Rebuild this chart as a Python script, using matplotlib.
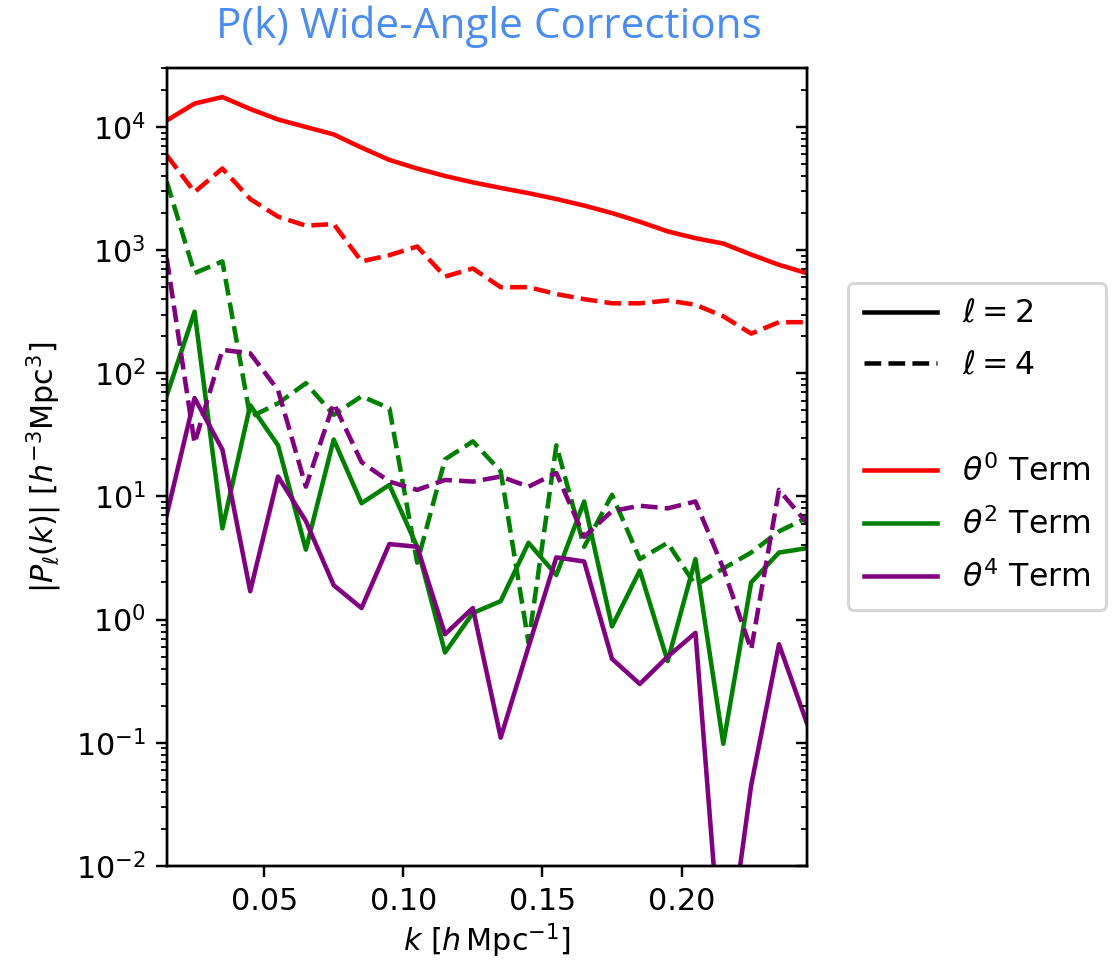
import matplotlib
matplotlib.use("Agg")
import matplotlib.pyplot as plt
from matplotlib.lines import Line2D

# k bins [h/Mpc]
k = [0.015, 0.025, 0.035, 0.045, 0.055, 0.065, 0.075, 0.085, 0.095, 0.105,
     0.115, 0.125, 0.135, 0.145, 0.155, 0.165, 0.175, 0.185, 0.195, 0.205,
     0.215, 0.225, 0.235, 0.245]

# |P_l(k)|
theta0_l2 = [1.13e4, 1.55e4, 1.75e4, 1.4e4, 1.15e4, 1.0e4, 8.7e3, 6.8e3,
             5.4e3, 4.6e3, 4.0e3, 3.55e3, 3.2e3, 2.9e3, 2.6e3, 2.3e3,
             2.0e3, 1.7e3, 1.42e3, 1.25e3, 1.13e3, 9.2e2, 7.6e2, 6.5e2]
theta0_l4 = [5.9e3, 2.96e3, 4.6e3, 2.6e3, 1.87e3, 1.58e3, 1.63e3, 8.1e2,
             9.1e2, 1.07e3, 6.1e2, 7.1e2, 5.0e2, 5.0e2, 4.4e2, 4.0e2,
             3.7e2, 3.7e2, 3.9e2, 3.6e2, 2.9e2, 2.1e2, 2.6e2, 2.6e2]
theta2_l2 = [66, 316, 5.5, 55, 26, 3.7, 29, 8.8, 12.4, 3.9, 0.54, 1.13,
             1.41, 4.2, 2.3, 9.1, 0.88, 2.5, 0.46, 3.1, 0.098, 2.0, 3.5, 3.8]
theta2_l4 = [3.6e3, 6.5e2, 8.1e2, 44, 57, 83, 46, 65, 52, 2.9, 20, 28,
             16, 0.65, 26, 3.9, 10.3, 3.1, 4.2, 1.9, 2.6, 3.5, 5.2, 6.7]
theta4_l2 = [7.1, 63, 24, 1.7, 14.5, 6.3, 1.9, 1.24, 4.1, 3.9, 0.76, 1.24,
             0.11, 0.6, 3.2, 2.96, 0.48, 0.30, 0.50, 0.78, 1e-3, 0.045, 0.63, 0.145]
theta4_l4 = [860, 27, 155, 145, 73, 12, 57, 19, 13.2, 11.3, 13.6, 13.2,
             14.5, 12, 15.5, 4.7, 7.6, 8.4, 8.0, 9.1, 2.6, 0.57, 11.3, 6.1]

# figure is a scaled-up matplotlib default, so scale through dpi
DPI = 217
fig = plt.figure(figsize=(1119 / DPI, 961 / DPI), dpi=DPI)
ax = fig.add_axes([0.149, 0.099, 0.572, 0.830])

ax.plot(k, theta0_l2, color="red", ls="-")
ax.plot(k, theta0_l4, color="red", ls="--")
ax.plot(k, theta2_l2, color="green", ls="-")
ax.plot(k, theta2_l4, color="green", ls="--")
ax.plot(k, theta4_l2, color="purple", ls="-")
ax.plot(k, theta4_l4, color="purple", ls="--")

ax.set_yscale("log")
ax.set_xlim(0.015, 0.245)
ax.set_ylim(1e-2, 3e4)
ax.set_xticks([0.05, 0.10, 0.15, 0.20])
ax.set_xlabel(r"$k\ [h\,{\rm Mpc}^{-1}]$", labelpad=2)
ax.set_ylabel(r"$|P_\ell(k)|\ [h^{-3}{\rm Mpc}^3]$")

# inward ticks on the right edge
ax2 = ax.twinx()
ax2.set_yscale("log")
ax2.set_ylim(1e-2, 3e4)
ax2.tick_params(which="both", direction="in", labelright=False)

handles = [
    Line2D([], [], color="k", ls="-"),
    Line2D([], [], color="k", ls="--"),
    Line2D([], [], color="none"),
    Line2D([], [], color="red"),
    Line2D([], [], color="green"),
    Line2D([], [], color="purple"),
]
labels = [r"$\ell = 2$", r"$\ell = 4$", r"$\theta^0$ Term",
          r"$\theta^0$ Term", r"$\theta^2$ Term", r"$\theta^4$ Term"]
leg = fig.legend(handles, labels, loc="upper left",
                 bbox_to_anchor=(848 / 1119, 1 - 283 / 961),
                 borderaxespad=0, handlelength=2.3, fontsize=10.5,
                 labelspacing=0.65, borderpad=0.5)
leg.get_texts()[2].set_color("none")  # spacer row

fig.text(0.437, 0.972, "P(k) Wide-Angle Corrections", ha="center",
         va="center", color="#4a8cf0", family="Open Sans", fontsize=14)

fig.savefig("out.png", dpi=DPI)
